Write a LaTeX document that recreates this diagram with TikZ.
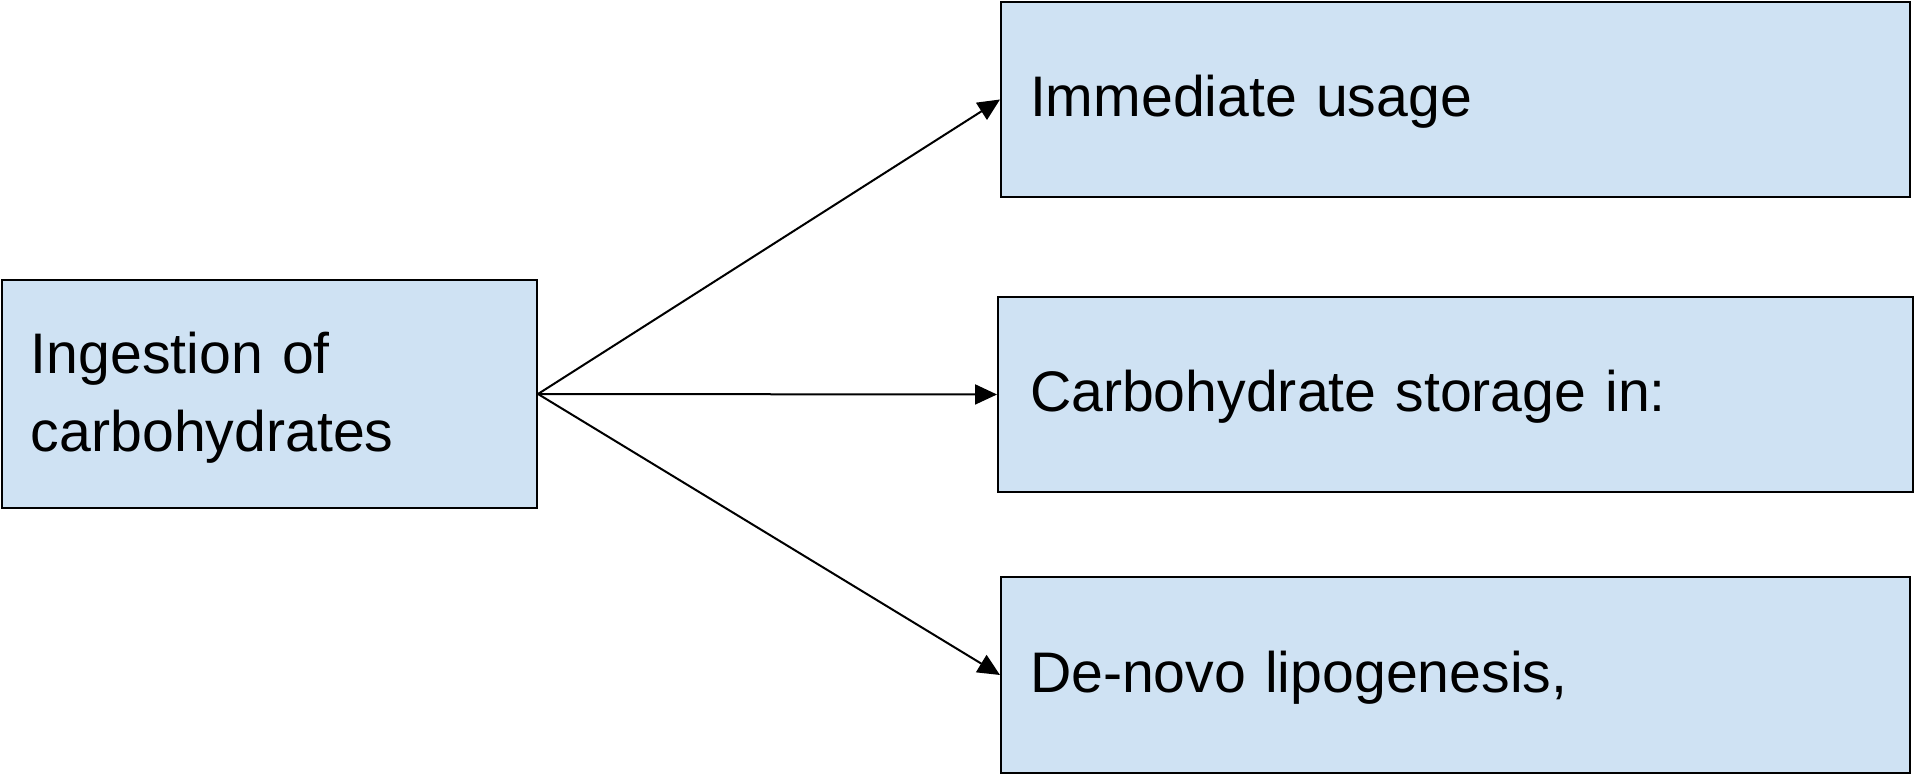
\documentclass[tikz,border=0pt]{standalone}
\usepackage{fontspec}
\setmainfont{Liberation Sans}
\usepackage{tikz}
\usetikzlibrary{arrows.meta}
\definecolor{boxblue}{HTML}{CFE2F3}
\tikzset{
    every node/.style={rectangle, draw, fill=boxblue, line width=1pt,
    	inner xsep=14.5pt, align=left, font=\fontsize{28.6}{39}\selectfont}
}
\tikzset{
    every edge/.append style={line width=1pt, -{Triangle[length=11pt,width=10pt]}}
}
\tikzset{
	onerow/.style={minimum width=454.5pt, minimum height=97.5pt,
		text width=425.5pt, text depth=3.5pt}
}

\begin{document}
\begin{tikzpicture}[x=.5pt,y=-.5pt]
  \useasboundingbox (0,0) rectangle (1920,779);
  \node (ing) [minimum width=267.5pt, minimum height=114pt, text width=238.5pt,
    text depth=41pt] at (269.5,394) {Ingestion of\\carbohydrates};
  \node (use) [onerow] at (1455.5,99.5) {Immediate usage};
  \node (sto) [onerow, minimum width=457.5pt] at (1455.5,394.5) {Carbohydrate storage in:};
  \node (lip) [onerow, minimum height=98pt] at (1455.5,675) {De-novo lipogenesis,};
  \draw (ing.east) edge (use.west); \draw (ing.east) edge (sto.west);
  \draw (ing.east) edge (lip.west);
\end{tikzpicture}
\end{document}
